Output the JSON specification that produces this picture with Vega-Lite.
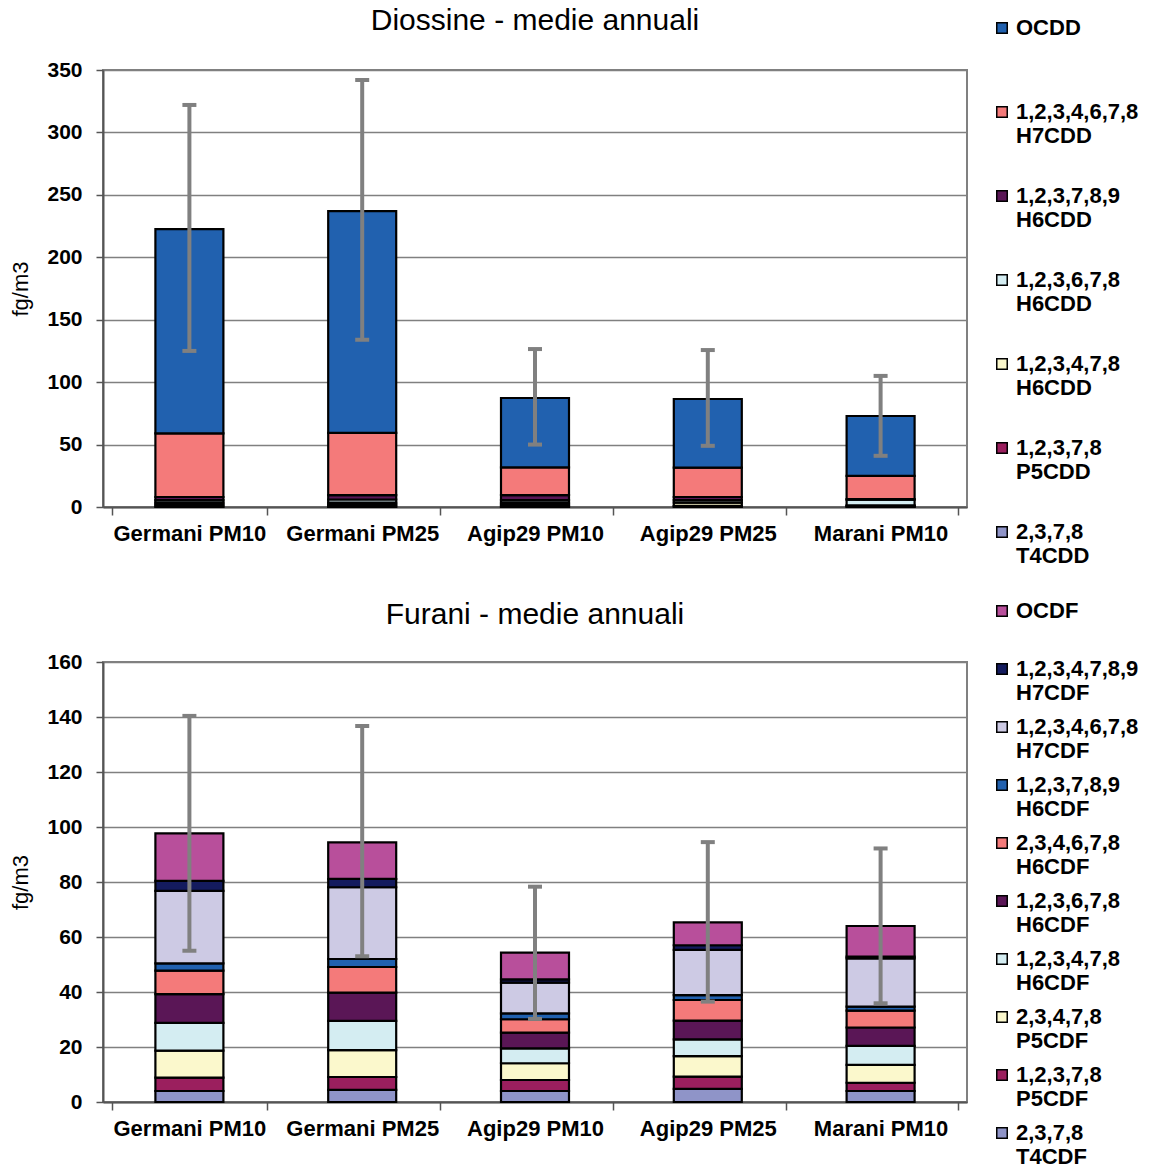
{
  "$schema": "https://vega.github.io/schema/vega-lite/v6.json",
  "background": "white",
  "padding": {"left": 8, "top": 5, "right": 0, "bottom": 0},
  "bounds": "flush",
  "spacing": 155,
  "config": {
    "font": "Liberation Sans",
    "view": {"stroke": "#808080", "strokeWidth": 2},
    "axisX": {
      "labelFont": "Liberation Sans", "labelFontSize": 22, "labelFontWeight": "bold", "labelColor": "black",
      "labelAngle": 0, "labelPadding": 8, "tickBand": "extent", "tickSize": 8, "tickColor": "#555555", "tickWidth": 1.5,
      "domainColor": "#555555", "domainWidth": 2, "title": null, "grid": false
    },
    "axisY": {
      "labelFont": "Liberation Sans", "labelFontSize": 21, "labelFontWeight": "bold", "labelColor": "black",
      "labelPadding": 14, "tickSize": 7, "tickColor": "#555555", "tickWidth": 1.5,
      "domainColor": "#555555", "domainWidth": 2, "gridColor": "#808080", "gridWidth": 1.6,
      "titleFont": "Liberation Sans", "titleFontSize": 22, "titleFontWeight": "normal", "titleColor": "black", "titlePadding": 14
    },
    "legend": {
      "orient": "none", "title": null, "symbolType": "square", "symbolSize": 110, "symbolStrokeColor": "black",
      "symbolStrokeWidth": 1.5, "symbolOpacity": 1, "labelFont": "Liberation Sans", "labelFontSize": 22,
      "labelFontWeight": "bold", "labelColor": "black", "labelLimit": 0, "labelOffset": 3
    },
    "title": {"font": "Liberation Sans", "fontSize": 30, "fontWeight": "normal", "color": "black", "anchor": "middle"}
  },
  "datasets": {
    "diox": [
      {"sito": "Germani PM10", "c": "2,3,7,8|T4CDD", "v": 0.5},
      {"sito": "Germani PM10", "c": "1,2,3,7,8|P5CDD", "v": 1.5},
      {"sito": "Germani PM10", "c": "1,2,3,4,7,8|H6CDD", "v": 1.5},
      {"sito": "Germani PM10", "c": "1,2,3,6,7,8|H6CDD", "v": 2},
      {"sito": "Germani PM10", "c": "1,2,3,7,8,9|H6CDD", "v": 2.5},
      {"sito": "Germani PM10", "c": "1,2,3,4,6,7,8|H7CDD", "v": 51},
      {"sito": "Germani PM10", "c": "OCDD", "v": 163.6},
      {"sito": "Germani PM25", "c": "2,3,7,8|T4CDD", "v": 0.5},
      {"sito": "Germani PM25", "c": "1,2,3,7,8|P5CDD", "v": 1.5},
      {"sito": "Germani PM25", "c": "1,2,3,4,7,8|H6CDD", "v": 1.5},
      {"sito": "Germani PM25", "c": "1,2,3,6,7,8|H6CDD", "v": 2.5},
      {"sito": "Germani PM25", "c": "1,2,3,7,8,9|H6CDD", "v": 3.5},
      {"sito": "Germani PM25", "c": "1,2,3,4,6,7,8|H7CDD", "v": 49.8},
      {"sito": "Germani PM25", "c": "OCDD", "v": 177.7},
      {"sito": "Agip29 PM10", "c": "2,3,7,8|T4CDD", "v": 0.5},
      {"sito": "Agip29 PM10", "c": "1,2,3,7,8|P5CDD", "v": 1.5},
      {"sito": "Agip29 PM10", "c": "1,2,3,4,7,8|H6CDD", "v": 1.5},
      {"sito": "Agip29 PM10", "c": "1,2,3,6,7,8|H6CDD", "v": 2},
      {"sito": "Agip29 PM10", "c": "1,2,3,7,8,9|H6CDD", "v": 4},
      {"sito": "Agip29 PM10", "c": "1,2,3,4,6,7,8|H7CDD", "v": 22.3},
      {"sito": "Agip29 PM10", "c": "OCDD", "v": 55.5},
      {"sito": "Agip29 PM25", "c": "2,3,7,8|T4CDD", "v": 0.5},
      {"sito": "Agip29 PM25", "c": "1,2,3,7,8|P5CDD", "v": 0.5},
      {"sito": "Agip29 PM25", "c": "1,2,3,4,7,8|H6CDD", "v": 2.5},
      {"sito": "Agip29 PM25", "c": "1,2,3,6,7,8|H6CDD", "v": 2},
      {"sito": "Agip29 PM25", "c": "1,2,3,7,8,9|H6CDD", "v": 2.5},
      {"sito": "Agip29 PM25", "c": "1,2,3,4,6,7,8|H7CDD", "v": 23.5},
      {"sito": "Agip29 PM25", "c": "OCDD", "v": 55},
      {"sito": "Marani PM10", "c": "2,3,7,8|T4CDD", "v": 0.3},
      {"sito": "Marani PM10", "c": "1,2,3,7,8|P5CDD", "v": 0.5},
      {"sito": "Marani PM10", "c": "1,2,3,4,7,8|H6CDD", "v": 0.5},
      {"sito": "Marani PM10", "c": "1,2,3,6,7,8|H6CDD", "v": 4.5},
      {"sito": "Marani PM10", "c": "1,2,3,7,8,9|H6CDD", "v": 0.5},
      {"sito": "Marani PM10", "c": "1,2,3,4,6,7,8|H7CDD", "v": 18.7},
      {"sito": "Marani PM10", "c": "OCDD", "v": 47.9}
    ],
    "dioxErr": [
      {"sito": "Germani PM10", "lo": 125, "hi": 322},
      {"sito": "Germani PM25", "lo": 134, "hi": 342},
      {"sito": "Agip29 PM10", "lo": 50, "hi": 126.5},
      {"sito": "Agip29 PM25", "lo": 49, "hi": 125.7},
      {"sito": "Marani PM10", "lo": 41, "hi": 105}
    ],
    "fur": [
      {"sito": "Germani PM10", "c": "2,3,7,8|T4CDF", "v": 4.0},
      {"sito": "Germani PM10", "c": "1,2,3,7,8|P5CDF", "v": 4.9},
      {"sito": "Germani PM10", "c": "2,3,4,7,8|P5CDF", "v": 9.8},
      {"sito": "Germani PM10", "c": "1,2,3,4,7,8|H6CDF", "v": 10.1},
      {"sito": "Germani PM10", "c": "1,2,3,6,7,8|H6CDF", "v": 10.4},
      {"sito": "Germani PM10", "c": "2,3,4,6,7,8|H6CDF", "v": 8.6},
      {"sito": "Germani PM10", "c": "1,2,3,7,8,9|H6CDF", "v": 2.6},
      {"sito": "Germani PM10", "c": "1,2,3,4,6,7,8|H7CDF", "v": 26.4},
      {"sito": "Germani PM10", "c": "1,2,3,4,7,8,9|H7CDF", "v": 3.6},
      {"sito": "Germani PM10", "c": "OCDF", "v": 17.3},
      {"sito": "Germani PM25", "c": "2,3,7,8|T4CDF", "v": 4.4},
      {"sito": "Germani PM25", "c": "1,2,3,7,8|P5CDF", "v": 4.7},
      {"sito": "Germani PM25", "c": "2,3,4,7,8|P5CDF", "v": 9.8},
      {"sito": "Germani PM25", "c": "1,2,3,4,7,8|H6CDF", "v": 10.6},
      {"sito": "Germani PM25", "c": "1,2,3,6,7,8|H6CDF", "v": 10.3},
      {"sito": "Germani PM25", "c": "2,3,4,6,7,8|H6CDF", "v": 9.3},
      {"sito": "Germani PM25", "c": "1,2,3,7,8,9|H6CDF", "v": 2.9},
      {"sito": "Germani PM25", "c": "1,2,3,4,6,7,8|H7CDF", "v": 26.1},
      {"sito": "Germani PM25", "c": "1,2,3,4,7,8,9|H7CDF", "v": 3.0},
      {"sito": "Germani PM25", "c": "OCDF", "v": 13.3},
      {"sito": "Agip29 PM10", "c": "2,3,7,8|T4CDF", "v": 4.0},
      {"sito": "Agip29 PM10", "c": "1,2,3,7,8|P5CDF", "v": 4.0},
      {"sito": "Agip29 PM10", "c": "2,3,4,7,8|P5CDF", "v": 6.1},
      {"sito": "Agip29 PM10", "c": "1,2,3,4,7,8|H6CDF", "v": 5.4},
      {"sito": "Agip29 PM10", "c": "1,2,3,6,7,8|H6CDF", "v": 5.7},
      {"sito": "Agip29 PM10", "c": "2,3,4,6,7,8|H6CDF", "v": 4.9},
      {"sito": "Agip29 PM10", "c": "1,2,3,7,8,9|H6CDF", "v": 2.1},
      {"sito": "Agip29 PM10", "c": "1,2,3,4,6,7,8|H7CDF", "v": 11.2},
      {"sito": "Agip29 PM10", "c": "1,2,3,4,7,8,9|H7CDF", "v": 1.2},
      {"sito": "Agip29 PM10", "c": "OCDF", "v": 9.7},
      {"sito": "Agip29 PM25", "c": "2,3,7,8|T4CDF", "v": 4.8},
      {"sito": "Agip29 PM25", "c": "1,2,3,7,8|P5CDF", "v": 4.4},
      {"sito": "Agip29 PM25", "c": "2,3,4,7,8|P5CDF", "v": 7.5},
      {"sito": "Agip29 PM25", "c": "1,2,3,4,7,8|H6CDF", "v": 6.1},
      {"sito": "Agip29 PM25", "c": "1,2,3,6,7,8|H6CDF", "v": 6.8},
      {"sito": "Agip29 PM25", "c": "2,3,4,6,7,8|H6CDF", "v": 7.5},
      {"sito": "Agip29 PM25", "c": "1,2,3,7,8,9|H6CDF", "v": 1.8},
      {"sito": "Agip29 PM25", "c": "1,2,3,4,6,7,8|H7CDF", "v": 16.4},
      {"sito": "Agip29 PM25", "c": "1,2,3,4,7,8,9|H7CDF", "v": 1.7},
      {"sito": "Agip29 PM25", "c": "OCDF", "v": 8.3},
      {"sito": "Marani PM10", "c": "2,3,7,8|T4CDF", "v": 4.0},
      {"sito": "Marani PM10", "c": "1,2,3,7,8|P5CDF", "v": 3.0},
      {"sito": "Marani PM10", "c": "2,3,4,7,8|P5CDF", "v": 6.5},
      {"sito": "Marani PM10", "c": "1,2,3,4,7,8|H6CDF", "v": 6.9},
      {"sito": "Marani PM10", "c": "1,2,3,6,7,8|H6CDF", "v": 6.7},
      {"sito": "Marani PM10", "c": "2,3,4,6,7,8|H6CDF", "v": 6.1},
      {"sito": "Marani PM10", "c": "1,2,3,7,8,9|H6CDF", "v": 1.5},
      {"sito": "Marani PM10", "c": "1,2,3,4,6,7,8|H7CDF", "v": 17.5},
      {"sito": "Marani PM10", "c": "1,2,3,4,7,8,9|H7CDF", "v": 0.7},
      {"sito": "Marani PM10", "c": "OCDF", "v": 11.1}
    ],
    "furErr": [
      {"sito": "Germani PM10", "lo": 55, "hi": 140.4},
      {"sito": "Germani PM25", "lo": 53, "hi": 136.7},
      {"sito": "Agip29 PM10", "lo": 30.2, "hi": 78.3},
      {"sito": "Agip29 PM25", "lo": 36.5, "hi": 94.5},
      {"sito": "Marani PM10", "lo": 35.9, "hi": 92.2}
    ]
  },
  "vconcat": [
    {
      "width": 864, "height": 437,
      "title": {"text": "Diossine - medie annuali", "offset": -19},
      "layer": [
        {
          "data": {"name": "diox"},
          "transform": [{"calculate": "indexof(['2,3,7,8|T4CDD','1,2,3,7,8|P5CDD','1,2,3,4,7,8|H6CDD','1,2,3,6,7,8|H6CDD','1,2,3,7,8,9|H6CDD','1,2,3,4,6,7,8|H7CDD','OCDD'], datum.c)", "as": "o"}],
          "mark": {"type": "bar", "stroke": "black", "strokeWidth": 2.2, "width": 68},
          "encoding": {
            "x": {"field": "sito", "type": "nominal", "sort": null, "axis": {}},
            "y": {"field": "v", "type": "quantitative", "stack": "zero", "scale": {"domain": [0, 350]}, "axis": {"values": [0, 50, 100, 150, 200, 250, 300, 350], "title": "fg/m3"}},
            "color": {
              "field": "c", "type": "nominal",
              "scale": {
                "domain": ["OCDD", "1,2,3,4,6,7,8|H7CDD", "1,2,3,7,8,9|H6CDD", "1,2,3,6,7,8|H6CDD", "1,2,3,4,7,8|H6CDD", "1,2,3,7,8|P5CDD", "2,3,7,8|T4CDD"],
                "range": ["#2161AF", "#F47A7A", "#5A1656", "#D4EDF2", "#FBF8CC", "#9B1F5E", "#8F94C8"]
              },
              "legend": {"legendX": 888, "legendY": -53, "rowPadding": 38, "labelExpr": "indexof(datum.label, '|') < 0 ? [datum.label, ' '] : split(datum.label, '|')"}
            },
            "order": {"field": "o", "type": "quantitative"}
          }
        },
        {
          "data": {"name": "dioxErr"},
          "mark": {"type": "rule", "color": "#808080", "strokeWidth": 4},
          "encoding": {"x": {"field": "sito", "type": "nominal", "sort": null}, "y": {"field": "lo", "type": "quantitative"}, "y2": {"field": "hi"}}
        },
        {
          "data": {"name": "dioxErr"},
          "mark": {"type": "tick", "color": "#808080", "thickness": 4, "size": 14, "opacity": 1},
          "encoding": {"x": {"field": "sito", "type": "nominal", "sort": null}, "y": {"field": "lo", "type": "quantitative"}}
        },
        {
          "data": {"name": "dioxErr"},
          "mark": {"type": "tick", "color": "#808080", "thickness": 4, "size": 14, "opacity": 1},
          "encoding": {"x": {"field": "sito", "type": "nominal", "sort": null}, "y": {"field": "hi", "type": "quantitative"}}
        }
      ]
    },
    {
      "width": 864, "height": 440,
      "title": {"text": "Furani - medie annuali", "offset": -30},
      "layer": [
        {
          "data": {"name": "fur"},
          "transform": [{"calculate": "indexof(['2,3,7,8|T4CDF','1,2,3,7,8|P5CDF','2,3,4,7,8|P5CDF','1,2,3,4,7,8|H6CDF','1,2,3,6,7,8|H6CDF','2,3,4,6,7,8|H6CDF','1,2,3,7,8,9|H6CDF','1,2,3,4,6,7,8|H7CDF','1,2,3,4,7,8,9|H7CDF','OCDF'], datum.c)", "as": "o"}],
          "mark": {"type": "bar", "stroke": "black", "strokeWidth": 2.2, "width": 68},
          "encoding": {
            "x": {"field": "sito", "type": "nominal", "sort": null, "axis": {}},
            "y": {"field": "v", "type": "quantitative", "stack": "zero", "scale": {"domain": [0, 160]}, "axis": {"values": [0, 20, 40, 60, 80, 100, 120, 140, 160], "title": "fg/m3"}},
            "color": {
              "field": "c", "type": "nominal",
              "scale": {
                "domain": ["OCDF", "1,2,3,4,7,8,9|H7CDF", "1,2,3,4,6,7,8|H7CDF", "1,2,3,7,8,9|H6CDF", "2,3,4,6,7,8|H6CDF", "1,2,3,6,7,8|H6CDF", "1,2,3,4,7,8|H6CDF", "2,3,4,7,8|P5CDF", "1,2,3,7,8|P5CDF", "2,3,7,8|T4CDF"],
                "range": ["#B84F9B", "#141B5E", "#CDCAE4", "#2161AF", "#F47A7A", "#5A1656", "#D4EDF2", "#FBF8CC", "#9B1F5E", "#8F94C8"]
              },
              "legend": {"legendX": 888, "legendY": -62, "rowPadding": 12, "labelExpr": "indexof(datum.label, '|') < 0 ? [datum.label, ' '] : split(datum.label, '|')"}
            },
            "order": {"field": "o", "type": "quantitative"}
          }
        },
        {
          "data": {"name": "furErr"},
          "mark": {"type": "rule", "color": "#808080", "strokeWidth": 4},
          "encoding": {"x": {"field": "sito", "type": "nominal", "sort": null}, "y": {"field": "lo", "type": "quantitative"}, "y2": {"field": "hi"}}
        },
        {
          "data": {"name": "furErr"},
          "mark": {"type": "tick", "color": "#808080", "thickness": 4, "size": 14, "opacity": 1},
          "encoding": {"x": {"field": "sito", "type": "nominal", "sort": null}, "y": {"field": "lo", "type": "quantitative"}}
        },
        {
          "data": {"name": "furErr"},
          "mark": {"type": "tick", "color": "#808080", "thickness": 4, "size": 14, "opacity": 1},
          "encoding": {"x": {"field": "sito", "type": "nominal", "sort": null}, "y": {"field": "hi", "type": "quantitative"}}
        }
      ]
    }
  ],
  "resolve": {"scale": {"color": "independent", "y": "independent", "x": "independent"}, "legend": {"color": "independent"}}
}
